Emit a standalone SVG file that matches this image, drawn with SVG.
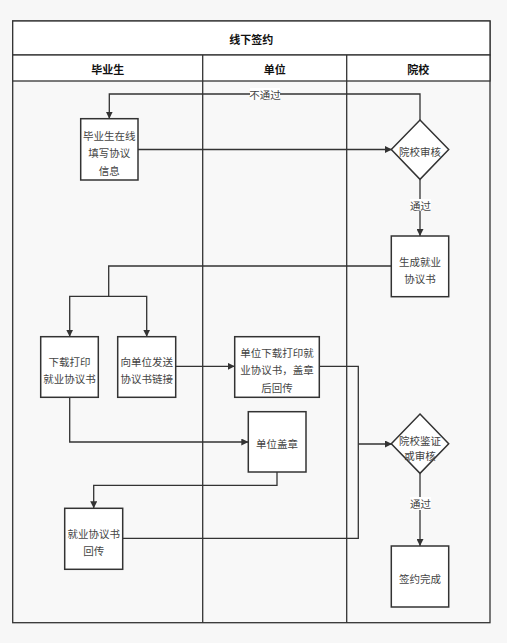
<svg xmlns="http://www.w3.org/2000/svg" width="507" height="643" viewBox="0 0 507 643">
<defs>
<style>
.lane{fill:#f8f8f8;stroke:#333;stroke-width:1.3}
.hdr{fill:#fff;stroke:#333;stroke-width:1.3}
.box{fill:#fff;stroke:#333;stroke-width:1.5}
.t{font-family:"Noto Sans CJK SC","Liberation Sans",sans-serif;font-size:10.5px;fill:#444;text-anchor:middle;dominant-baseline:central}
.h{font-family:"Noto Sans CJK SC","Liberation Sans",sans-serif;font-size:11px;font-weight:bold;fill:#111;text-anchor:middle;dominant-baseline:central}
.c{fill:none;stroke:#333;stroke-width:1.3}
.lbl{fill:#fff}
</style>
<marker id="ar" viewBox="0 0 10 10" refX="10" refY="5" markerWidth="7" markerHeight="7" markerUnits="userSpaceOnUse" orient="auto"><path d="M0,0 L10,5 L0,10 z" fill="#333"/></marker>
</defs>
<rect width="507" height="643" fill="#f7f7f7"/>
<g id="pool">
<rect class="lane" x="12.7" y="21" width="477.3" height="601.7"/>
<rect class="hdr" x="12.7" y="21" width="477.3" height="34"/>
<rect class="hdr" x="12.7" y="55" width="477.3" height="26"/>
<line class="c" x1="202.7" y1="55" x2="202.7" y2="622.7"/>
<line class="c" x1="346.7" y1="55" x2="346.7" y2="622.7"/>
<text class="h" x="251.3" y="39">线下签约</text>
<text class="h" x="107.7" y="69">毕业生</text>
<text class="h" x="274.7" y="69">单位</text>
<text class="h" x="418.3" y="69">院校</text>
</g>
<g id="connectors">
<path class="c" d="M420,120 V94 H109.3 V118.7" marker-end="url(#ar)"/>
<rect class="lbl" x="250" y="88" width="30" height="12"/>
<text class="t" x="265" y="94">不通过</text>
<path class="c" d="M138,149.5 H392" marker-end="url(#ar)"/>
<path class="c" d="M420,179.3 V236" marker-end="url(#ar)"/>
<rect class="lbl" x="410" y="199" width="21" height="12"/>
<text class="t" x="420.5" y="205">通过</text>
<path class="c" d="M391.3,266 H108.7 V296.3 H69.7 V336.7" marker-end="url(#ar)"/>
<path class="c" d="M108.7,296.3 H146.7 V336.7" marker-end="url(#ar)"/>
<path class="c" d="M175.7,366.3 H234.7" marker-end="url(#ar)"/>
<path class="c" d="M69.7,397.3 V442 H248.3" marker-end="url(#ar)"/>
<path class="c" d="M277,472 V485.3 H93.7 V508.3" marker-end="url(#ar)"/>
<path class="c" d="M319.3,366.3 H358.3 V538.3 H122.7"/>
<path class="c" d="M358.3,444 H392" marker-end="url(#ar)"/>
<path class="c" d="M420,473.3 V546" marker-end="url(#ar)"/>
<rect class="lbl" x="410" y="497" width="21" height="13"/>
<text class="t" x="420.5" y="503.5">通过</text>
</g>
<g id="n1"><rect class="box" x="80.7" y="118.7" width="57.3" height="61.3"/>
<text class="t" x="109.3" y="135">毕业生在线</text><text class="t" x="109.3" y="152.5">填写协议</text><text class="t" x="109.3" y="170">信息</text></g>
<g id="d1"><path class="box" d="M420,120 L448.7,149.5 L420,179.3 L391.3,149.5 z"/>
<text class="t" x="420" y="151">院校审核</text></g>
<g id="n2"><rect class="box" x="391.3" y="236" width="57.4" height="60.7"/>
<text class="t" x="420" y="261">生成就业</text><text class="t" x="420" y="278">协议书</text></g>
<g id="n3"><rect class="box" x="40.7" y="336.7" width="57.6" height="60.6"/>
<text class="t" x="69.5" y="361">下载打印</text><text class="t" x="69.5" y="378">就业协议书</text></g>
<g id="n4"><rect class="box" x="117.7" y="336.7" width="58" height="60.6"/>
<text class="t" x="146.7" y="361">向单位发送</text><text class="t" x="146.7" y="378">协议书链接</text></g>
<g id="n5"><rect class="box" x="234.7" y="336.7" width="84.6" height="60.6"/>
<text class="t" x="277" y="352">单位下载打印就</text><text class="t" x="277" y="369.5">业协议书，盖章</text><text class="t" x="277" y="387">后回传</text></g>
<g id="n6"><rect class="box" x="248.3" y="411.7" width="57.7" height="60.3"/>
<text class="t" x="277" y="443">单位盖章</text></g>
<g id="d2"><path class="box" d="M420,414 L448.7,443.7 L420,473.3 L391.3,443.7 z"/>
<text class="t" x="420" y="440">院校鉴证</text><text class="t" x="420" y="455.5">或审核</text></g>
<g id="n7"><rect class="box" x="64.7" y="508.3" width="58" height="61"/>
<text class="t" x="93.7" y="533">就业协议书</text><text class="t" x="93.7" y="550">回传</text></g>
<g id="n8"><rect class="box" x="391.3" y="546" width="57.4" height="61"/>
<text class="t" x="420" y="578">签约完成</text></g>
</svg>
